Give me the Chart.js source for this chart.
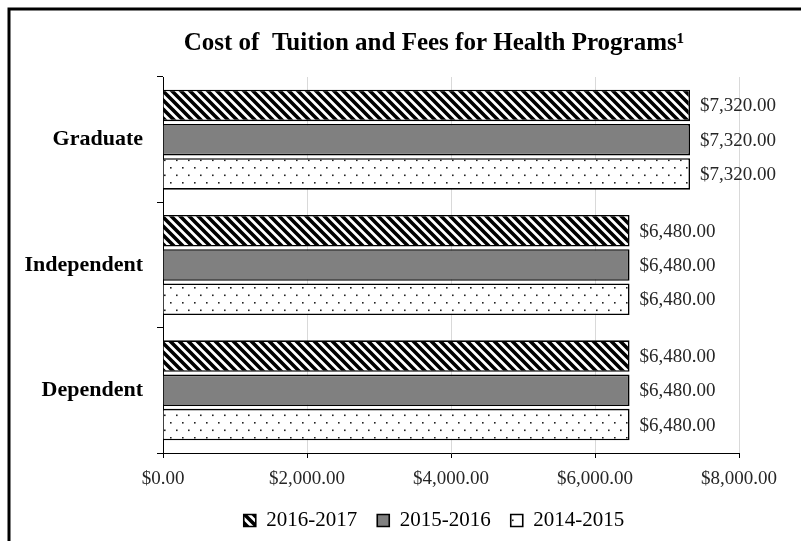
<!DOCTYPE html>
<html>
<head>
<meta charset="utf-8">
<script src="https://cdn.jsdelivr.net/npm/chart.js@4.4.1/dist/chart.umd.min.js"></script>
<style>
html,body{margin:0;padding:0;background:#fff;}
#wrap{position:relative;width:801px;height:541px;}
</style>
</head>
<body>
<div id="wrap"><canvas id="c" width="801" height="541"></canvas></div>
<script>
// ---- data ----
const categories = ['Graduate', 'Independent', 'Dependent'];
const seriesNames = ['2016-2017', '2015-2016', '2014-2015'];
const values2016_2017 = [7320, 6480, 6480];
const values2015_2016 = [7320, 6480, 6480];
const values2014_2015 = [7320, 6480, 6480];
const xMin = 0, xMax = 8000, xStep = 2000;
const titleText = 'Cost of  Tuition and Fees for Health Programs\u00B9';

function money(v){
  return '$' + Number(v).toLocaleString('en-US',{minimumFractionDigits:2, maximumFractionDigits:2});
}

// ---- patterns ----
function hatchPattern(){
  const p = 9;
  const c = document.createElement('canvas'); c.width = p; c.height = p;
  const g = c.getContext('2d');
  g.fillStyle = '#fff'; g.fillRect(0,0,p,p);
  g.strokeStyle = '#000'; g.lineWidth = 3.6;
  g.beginPath();
  g.moveTo(-p, 0); g.lineTo(p, 2*p);
  g.moveTo(0, 0); g.lineTo(p, p);
  g.moveTo(0, -p); g.lineTo(2*p, p);
  g.stroke();
  return document.getElementById('c').getContext('2d').createPattern(c,'repeat');
}
function dotPattern(){
  const w = 12, h = 15;
  const c = document.createElement('canvas'); c.width = w; c.height = h;
  const g = c.getContext('2d');
  g.fillStyle = '#fff'; g.fillRect(0,0,w,h);
  g.fillStyle = '#222';
  g.fillRect(2,2,1.6,1.6);
  g.fillRect(8,9.5,1.6,1.6);
  return document.getElementById('c').getContext('2d').createPattern(c,'repeat');
}
const fills = [hatchPattern(), '#808080', dotPattern()];

const serif = "'Liberation Serif','Times New Roman',serif";

const framePlugin = {
  id:'frame',
  beforeDraw(chart){
    const ctx = chart.ctx;
    ctx.save();
    ctx.fillStyle = '#fff';
    ctx.fillRect(0,0,chart.width,chart.height);
    ctx.strokeStyle = '#000'; ctx.lineWidth = 3;
    ctx.beginPath();
    ctx.moveTo(9, chart.height); ctx.lineTo(9, 9); ctx.lineTo(chart.width, 9);
    ctx.stroke();
    ctx.restore();
  }
};

const valueLabels = {
  id:'valueLabels',
  afterDatasetsDraw(chart){
    const ctx = chart.ctx;
    ctx.save();
    ctx.font = '19px ' + serif;
    ctx.fillStyle = '#262626';
    ctx.textAlign = 'left';
    ctx.textBaseline = 'middle';
    chart.data.datasets.forEach((ds, di) => {
      const meta = chart.getDatasetMeta(di);
      meta.data.forEach((bar, i) => {
        ctx.fillText(money(ds.data[i]), bar.x + 10, bar.y + 1);
      });
    });
    ctx.restore();
  }
};

const seriesData = [values2016_2017, values2015_2016, values2014_2015];

new Chart(document.getElementById('c'), {
  type:'bar',
  data:{
    labels: categories,
    datasets: seriesNames.map((name, i) => ({
      label: name,
      data: seriesData[i],
      backgroundColor: fills[i],
      borderColor: '#000',
      borderWidth: 1.6,
      categoryPercentage: 0.82,
      barPercentage: 0.92
    }))
  },
  options:{
    indexAxis:'y',
    responsive:false,
    animation:false,
    layout:{ padding:{ left:8, right:-59, top:0, bottom:0 } },
    scales:{
      x:{
        min:xMin, max:xMax,
        ticks:{ stepSize:xStep, callback:(v)=>money(v), color:'#262626', font:{family:serif, size:19}, padding:10, maxRotation:0 },
        grid:{ color:'#d9d9d9', tickColor:'#000', tickLength:5, lineWidth:1 },
        border:{ color:'#000', width:1 },
        afterFit(scale){ scale.height = 37; }
      },
      y:{
        ticks:{ color:'#000', font:{family:serif, size:22, weight:'bold'}, padding:14 },
        grid:{ drawOnChartArea:false, color:'#000', tickLength:6, lineWidth:1 },
        border:{ color:'#000', width:1 },
        afterFit(scale){ scale.width = 155; }
      },
      yR:{
        type:'category', axis:'y', position:'right',
        ticks:{ display:false },
        grid:{ display:false },
        border:{ display:false },
        afterFit(scale){ scale.width = 121; }
      }
    },
    plugins:{
      title:{
        display:true, text:titleText, color:'#000',
        font:{ family:serif, size:25, weight:'bold' },
        padding:{ top:29, bottom:18 }
      },
      legend:{
        position:'bottom',
        labels:{ color:'#000', font:{family:serif, size:21}, boxWidth:12, boxHeight:12, padding:20 }
      },
      tooltip:{ enabled:false }
    }
  },
  plugins:[framePlugin, valueLabels]
});
</script>
</body>
</html>
